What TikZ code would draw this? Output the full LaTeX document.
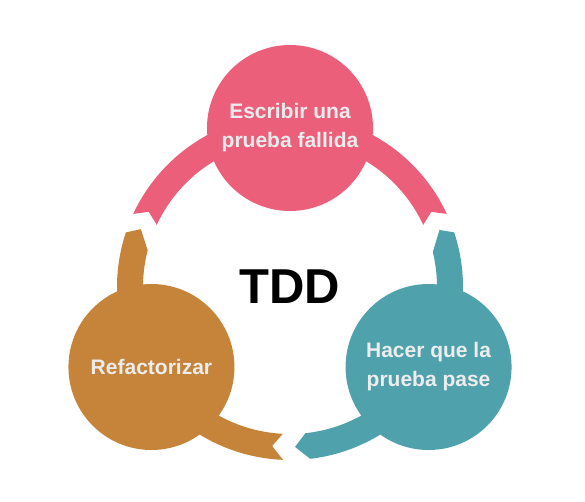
\documentclass[tikz,border=0pt]{standalone}
\usepackage{fontspec}
\setmainfont{Liberation Sans}
\usetikzlibrary{positioning}

\definecolor{pinkc}{RGB}{236,95,123}
\definecolor{orangec}{RGB}{197,132,58}
\definecolor{tealc}{RGB}{79,161,172}

\tikzset{
    stage/.style={circle, minimum size=166pt, inner sep=0pt, align=center,
        text=white!93!black, font=\bfseries\fontsize{21}{29}\selectfont},
}

\begin{document}
\begin{tikzpicture}[x=1pt, y=1pt]
        \useasboundingbox (0,0) rectangle (585,501);
        \coordinate (ring) at (290,214);
        \begin{scope}[shift={(ring)}]
            % bands round the ring
            \fill[pinkc] (25:173) arc[start angle=25, end angle=155, radius=173]
                -- (152:160) -- (155:147) arc[start angle=155, end angle=25, radius=147]
                -- (28:160) -- cycle;
            \fill[orangec] (158.8:160) -- (161.6:173) arc[start angle=161.6, end angle=267.7, radius=173]
                -- (263.6:160) -- (267.2:147) arc[start angle=267.2, end angle=165.5, radius=147]
                -- cycle;
            \fill[tealc] (271.8:160) -- (276:147) arc[start angle=276, end angle=373.7, radius=147]
                -- (380.9:160) -- (378.4:173) arc[start angle=378.4, end angle=276.7, radius=173]
                -- cycle;
            % stages
            \node[stage, fill=pinkc] (write) at (90:159) {Escribir una\\prueba fallida};
            \node[stage, fill=tealc] (pass) at (330:160) {Hacer que la\\prueba pase};
            \node[stage, fill=orangec] (refactor) at (210:160) {Refactorizar};
        \end{scope}
        \node[font=\bfseries\fontsize{49}{55}\selectfont] (tdd) at (ring) {TDD};
    \end{tikzpicture}
\end{document}
